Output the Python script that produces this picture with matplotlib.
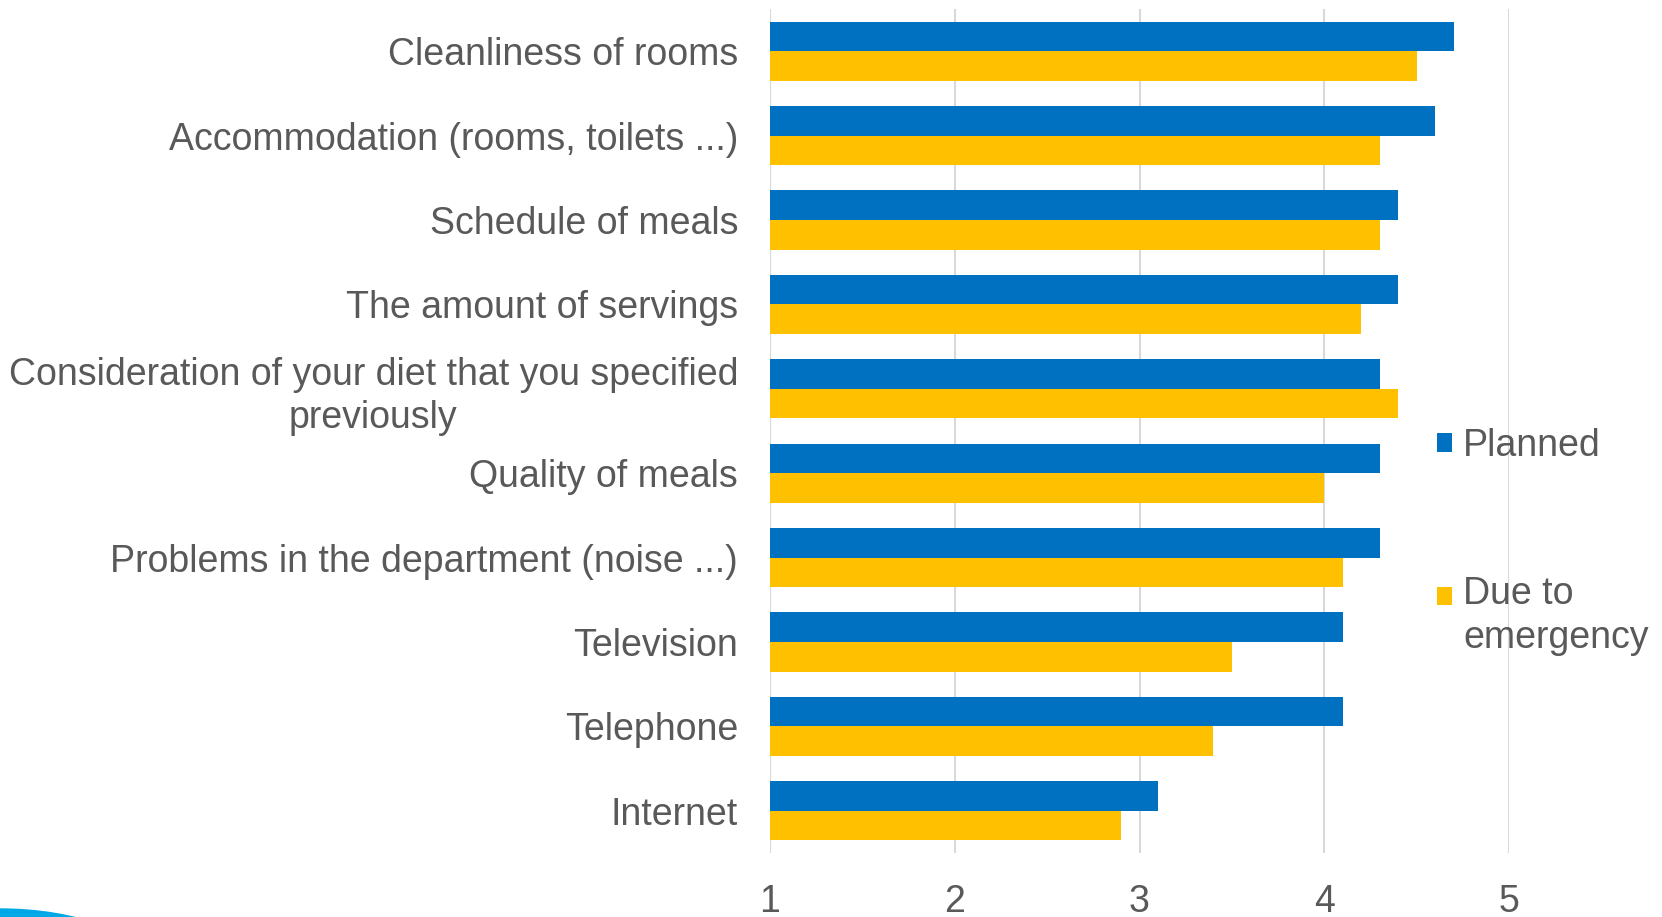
import matplotlib.pyplot as plt
from matplotlib.patches import Ellipse
import numpy as np

categories = [
    "Cleanliness of rooms",
    "Accommodation (rooms, toilets ...)",
    "Schedule of meals",
    "The amount of servings",
    "Consideration of your diet that you specified\npreviously",
    "Quality of meals",
    "Problems in the department (noise ...)",
    "Television",
    "Telephone",
    "Internet",
]
planned = [4.7, 4.6, 4.4, 4.4, 4.3, 4.3, 4.3, 4.1, 4.1, 3.1]
emergency = [4.5, 4.3, 4.3, 4.2, 4.4, 4.0, 4.1, 3.5, 3.4, 2.9]
series_names = ["Planned", "Due to\nemergency"]
x_ticks = [1, 2, 3, 4, 5]

plt.rcParams['font.family'] = ['Liberation Sans', 'DejaVu Sans']
text_color = '#595959'
fs = 27

fig = plt.figure(figsize=(16.62, 9.17), dpi=100)
ax = fig.add_axes([770 / 1662, 1 - 853 / 917, (1509 - 770) / 1662, (853 - 9) / 917])

y = np.arange(len(categories))
h = 0.35
ax.barh(y - h / 2, np.array(planned) - 1, left=1, height=h, color='#0070C0', label=series_names[0])
ax.barh(y + h / 2, np.array(emergency) - 1, left=1, height=h, color='#FFC000', label=series_names[1])

ax.set_xlim(1, 5)
ax.set_ylim(len(categories) - 0.5, -0.5)
ax.set_xticks(x_ticks)
ax.set_yticks(y)
ax.set_yticklabels(categories, multialignment='center', linespacing=1.25)
ax.tick_params(axis='both', length=0, labelsize=fs, colors=text_color)
ax.tick_params(axis='y', pad=23)
ax.tick_params(axis='x', pad=22)
ax.grid(axis='x', color='#D9D9D9', linewidth=1.5)
ax.set_axisbelow(True)
for s in ax.spines.values():
    s.set_visible(False)

leg = ax.legend(loc='center left', bbox_to_anchor=(1418 / 1662, 1 - 542 / 917),
                bbox_transform=fig.transFigure, frameon=False, fontsize=fs,
                handlelength=0.4, handleheight=0.4, handletextpad=0.3,
                labelspacing=3.0, borderpad=0)
for t in leg.get_texts():
    t.set_color(text_color)
    t.set_linespacing(1.3)
# Excel puts the marker next to the first line of a wrapped label
p = leg.get_patches()[1]
p.set_y(p.get_y() + 15)

# decorative swoosh at the bottom-left corner
fig.patches.append(Ellipse((0, -52 / 917), 292 / 1662, 120 / 917,
                           transform=fig.transFigure, color='#00A8E8', zorder=0))

fig.savefig('out.png', dpi=100)
